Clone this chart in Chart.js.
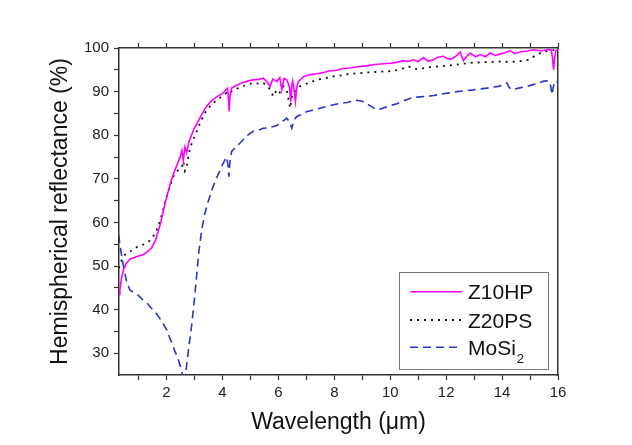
<!DOCTYPE html>
<html>
<head>
<meta charset="utf-8">
<script src="https://cdn.jsdelivr.net/npm/chart.js@4.4.1/dist/chart.umd.min.js"></script>
<style>
  body { margin: 0; background: #fff; }
  #wrap { width: 632px; height: 445px; }
</style>
</head>
<body>
<div id="wrap"><canvas id="reflChart" width="632" height="445"></canvas></div>
<script>
// Axis ranges and ticks
const xMin = 0.3, xMax = 16;
const yMin = 25, yMax = 100;
const xTicks = [1, 2, 3, 4, 5, 6, 7, 8, 9, 10, 11, 12, 13, 14, 15, 16];
const xLabeled = [2, 4, 6, 8, 10, 12, 14, 16];
const yTicks = [30, 35, 40, 45, 50, 55, 60, 65, 70, 75, 80, 85, 90, 95, 100];
const yLabeled = [30, 40, 50, 60, 70, 80, 90, 100];

const seriesLabels = ['Z10HP', 'Z20PS', 'MoSi\u2082'];

// [wavelength um, reflectance %]
const z10hp = [
  [0.3,43.5],[0.33,44.5],[0.39,47.2],[0.47,49.3],[0.57,50.7],[0.7,51.6],[0.87,52.0],[1.0,52.3],
  [1.16,52.6],[1.3,53.2],[1.46,54.1],[1.6,55.8],[1.7,57.9],[1.8,60.2],[1.88,62.5],[1.97,64.9],
  [2.06,67.1],[2.15,69.2],[2.24,70.9],[2.36,73.0],[2.48,74.8],[2.55,76.5],[2.6,74.2],[2.66,77.3],
  [2.72,76.0],[2.8,78.5],[2.9,80.1],[3.0,81.7],[3.13,83.2],[3.28,85.0],[3.43,86.6],[3.58,87.7],
  [3.73,88.5],[3.9,89.2],[4.03,89.7],[4.18,90.8],[4.22,88.0],[4.24,85.5],[4.27,89.0],[4.33,90.8],
  [4.5,91.4],[4.69,92.0],[4.9,92.4],[5.1,92.7],[5.3,92.8],[5.46,93.1],[5.6,92.2],[5.7,91.2],
  [5.8,92.9],[5.94,92.3],[6.05,93.2],[6.12,90.4],[6.2,93.0],[6.3,92.7],[6.4,91.0],[6.44,87.7],
  [6.48,91.5],[6.51,92.4],[6.56,90.5],[6.61,87.7],[6.66,91.0],[6.71,92.3],[6.9,93.4],[7.13,93.9],
  [7.4,94.1],[7.61,94.4],[7.85,94.8],[8.09,94.9],[8.3,95.3],[8.56,95.4],[8.85,95.7],[9.16,95.9],
  [9.45,96.2],[9.76,96.4],[10.0,96.5],[10.24,96.7],[10.45,97.1],[10.65,96.9],[10.83,97.3],[11.0,96.9],
  [11.19,97.8],[11.35,97.0],[11.55,97.3],[11.7,97.9],[11.9,98.1],[12.1,97.4],[12.26,97.7],[12.4,98.4],
  [12.5,99.1],[12.62,97.1],[12.75,98.2],[12.86,98.85],[13.05,98.0],[13.22,98.5],[13.4,98.0],[13.58,98.85],
  [13.75,98.3],[13.93,98.6],[14.1,98.9],[14.29,99.4],[14.45,98.7],[14.65,99.1],[14.9,99.3],[15.13,99.6],
  [15.4,99.3],[15.61,99.6],[15.75,99.6],[15.8,98.0],[15.84,95.0],[15.88,97.5],[15.92,99.4],[16.0,99.6]
];

const z20ps = [
  [0.3,49.5],[0.33,50.3],[0.45,52.2],[0.57,52.9],[0.69,53.3],[0.85,54.0],[0.98,54.5],[1.13,54.8],
  [1.28,55.2],[1.4,55.8],[1.52,56.8],[1.62,57.8],[1.7,59.1],[1.8,61.0],[1.88,62.9],[1.97,65.0],
  [2.06,67.1],[2.18,69.5],[2.3,71.3],[2.42,72.0],[2.54,72.5],[2.6,74.0],[2.66,71.8],[2.72,72.5],
  [2.78,75.0],[2.84,77.0],[2.95,79.0],[3.08,80.9],[3.22,83.1],[3.37,85.1],[3.55,86.6],[3.73,87.7],
  [3.95,88.8],[4.15,89.7],[4.22,88.5],[4.27,89.8],[4.37,90.3],[4.57,90.8],[4.85,91.5],[5.1,92.0],
  [5.3,91.8],[5.46,92.0],[5.65,91.0],[5.82,88.9],[5.95,90.5],[6.05,89.8],[6.18,91.2],[6.3,90.4],
  [6.42,86.2],[6.5,89.5],[6.62,90.2],[6.77,91.2],[7.0,91.8],[7.37,92.7],[7.65,93.0],[7.97,93.5],
  [8.25,93.7],[8.56,94.1],[8.85,94.2],[9.16,94.4],[9.45,94.5],[9.76,94.6],[10.0,94.7],[10.24,94.9],
  [10.45,95.3],[10.65,95.8],[10.9,95.2],[11.07,95.2],[11.4,95.6],[11.79,95.8],[12.1,96.0],[12.5,96.3],
  [12.85,96.6],[13.22,96.7],[13.6,96.8],[13.93,96.9],[14.3,96.8],[14.65,97.0],[14.95,97.3],[15.25,98.5],
  [15.5,99.2],[15.75,99.4],[16.0,99.6]
];

const mosi2 = [
  [0.29,57.1],[0.33,55.0],[0.37,53.3],[0.45,50.3],[0.57,46.4],[0.69,44.5],[0.8,44.0],[0.87,43.8],
  [1.0,43.2],[1.16,42.2],[1.3,41.5],[1.46,40.3],[1.6,39.4],[1.76,38.0],[1.94,36.1],[2.04,35.0],
  [2.12,33.4],[2.22,32.0],[2.3,30.4],[2.4,29.0],[2.48,27.3],[2.56,25.5],[2.62,23.0],[2.68,25.0],
  [2.72,27.3],[2.8,31.5],[2.9,36.5],[3.0,42.5],[3.08,48.0],[3.16,53.5],[3.25,57.9],[3.36,61.8],
  [3.49,64.8],[3.64,67.8],[3.79,70.2],[3.95,72.5],[4.09,74.4],[4.15,75.0],[4.2,73.0],[4.23,70.5],
  [4.27,74.0],[4.33,76.3],[4.48,77.3],[4.63,78.2],[4.78,79.2],[4.92,80.1],[5.1,80.9],[5.3,81.2],
  [5.46,81.6],[5.65,81.7],[5.82,82.0],[5.95,82.2],[6.06,82.9],[6.18,83.3],[6.3,83.9],[6.4,83.0],
  [6.48,81.6],[6.56,83.5],[6.66,84.3],[6.85,84.8],[7.01,85.4],[7.25,85.8],[7.49,86.2],[7.75,86.6],
  [7.97,87.0],[8.2,87.3],[8.45,87.5],[8.65,87.8],[8.8,88.0],[9.0,87.8],[9.16,87.2],[9.35,86.5],
  [9.52,85.8],[9.7,86.1],[9.88,86.5],[10.05,86.9],[10.24,87.2],[10.53,88.0],[10.83,88.7],[11.07,88.8],
  [11.31,88.9],[11.55,89.1],[11.79,89.4],[12.1,89.7],[12.38,90.0],[12.7,90.2],[12.98,90.4],[13.2,90.6],
  [13.46,90.8],[13.65,91.0],[13.87,91.2],[14.05,91.6],[14.17,92.0],[14.25,91.0],[14.35,90.4],[14.47,90.6],
  [14.59,90.8],[14.75,91.0],[14.89,91.2],[15.1,91.6],[15.31,92.0],[15.49,92.4],[15.67,92.5],[15.73,91.5],
  [15.79,89.3],[15.83,91.0],[15.88,92.4],[16.0,92.2]
];

const FONT = "'Liberation Sans', Arial, sans-serif";
const AXIS = '#333';

function toPoints(pairs) {
  return pairs.map(p => ({ x: p[0], y: p[1] }));
}

// legend drawn by hand so MoSi2 can get its subscript
const legendBox = {
  id: 'legendBox',
  afterDatasetsDraw(chart) {
    const ctx = chart.ctx;
    const rows = [291.7, 320, 347.3];
    ctx.save();
    ctx.strokeStyle = '#777';
    ctx.lineWidth = 1;
    ctx.strokeRect(399.5, 272.5, 149, 97);
    chart.data.datasets.forEach((ds, i) => {
      ctx.beginPath();
      ctx.setLineDash(ds.borderDash || []);
      ctx.strokeStyle = ds.borderColor;
      ctx.lineWidth = ds.borderWidth;
      ctx.moveTo(410, rows[i]);
      ctx.lineTo(462, rows[i]);
      ctx.stroke();
      ctx.setLineDash([]);
      ctx.fillStyle = '#111';
      ctx.textBaseline = 'alphabetic';
      ctx.font = '21px ' + FONT;
      let label = ds.label;
      let sub = '';
      if (label.endsWith('\u2082')) { label = label.slice(0, -1); sub = '2'; }
      ctx.fillText(label, 468, rows[i] + 7.5);
      if (sub) {
        const w = ctx.measureText(label).width;
        ctx.font = '13px ' + FONT;
        ctx.fillText(sub, 468 + w + 1, rows[i] + 16);
      }
    });
    ctx.restore();
  }
};

function setTicks(list) {
  return function(scale) { scale.ticks = list.map(v => ({ value: v })); };
}

const ctx = document.getElementById('reflChart').getContext('2d');
const chart = new Chart(ctx, {
  type: 'line',
  data: {
    datasets: [
      {
        label: seriesLabels[0], data: toPoints(z10hp),
        borderColor: '#ff00ff', borderWidth: 1.6, pointRadius: 0, tension: 0
      },
      {
        label: seriesLabels[1], data: toPoints(z20ps),
        borderColor: '#111', borderWidth: 1.8, borderDash: [2, 5], pointRadius: 0, tension: 0
      },
      {
        label: seriesLabels[2], data: toPoints(mosi2),
        borderColor: '#2a34c8', borderWidth: 1.6, borderDash: [8, 5], pointRadius: 0, tension: 0
      }
    ]
  },
  options: {
    responsive: false,
    animation: false,
    devicePixelRatio: 1,
    layout: { padding: 0 },
    plugins: { legend: { display: false }, tooltip: { enabled: false } },
    scales: {
      x: {
        type: 'linear', position: 'bottom', min: xMin, max: xMax,
        afterBuildTicks: setTicks(xTicks),
        afterFit: s => { s.height = 70; },
        grid: { drawOnChartArea: false, tickLength: 5, tickColor: AXIS, tickWidth: 1.2 },
        border: { color: AXIS, width: 1.5 },
        ticks: {
          autoSkip: false, maxRotation: 0, padding: 4, color: '#222',
          font: { family: FONT, size: 15 },
          callback: v => xLabeled.includes(v) ? String(v) : ''
        },
        title: {
          display: true, text: 'Wavelength (\u03bcm)', color: '#111',
          font: { family: FONT, size: 23 }, padding: { top: 0, bottom: 9 }
        }
      },
      xTop: {
        type: 'linear', position: 'top', min: xMin, max: xMax,
        afterBuildTicks: setTicks(xTicks),
        afterFit: s => { s.height = 48; },
        grid: { drawOnChartArea: false, tickLength: 5, tickColor: AXIS, tickWidth: 1.2 },
        border: { color: AXIS, width: 1.5 },
        ticks: { display: false }
      },
      y: {
        type: 'linear', position: 'left', min: yMin, max: yMax,
        afterBuildTicks: setTicks(yTicks),
        afterFit: s => { s.width = 119; },
        grid: { drawOnChartArea: false, tickLength: 5, tickColor: AXIS, tickWidth: 1.2 },
        border: { color: AXIS, width: 1.5 },
        ticks: {
          autoSkip: false, padding: 5, color: '#222',
          font: { family: FONT, size: 15 },
          callback: v => yLabeled.includes(v) ? String(v) : ''
        },
        title: {
          display: true, text: 'Hemispherical reflectance (%)', color: '#111',
          font: { family: FONT, size: 23 }, padding: { top: 47, bottom: 0 }
        }
      },
      yRight: {
        type: 'linear', position: 'right', min: yMin, max: yMax,
        afterFit: s => { s.width = 74; },
        grid: { display: false },
        border: { color: AXIS, width: 1.5 },
        ticks: { display: false }
      }
    }
  },
  plugins: [legendBox]
});
</script>
</body>
</html>
